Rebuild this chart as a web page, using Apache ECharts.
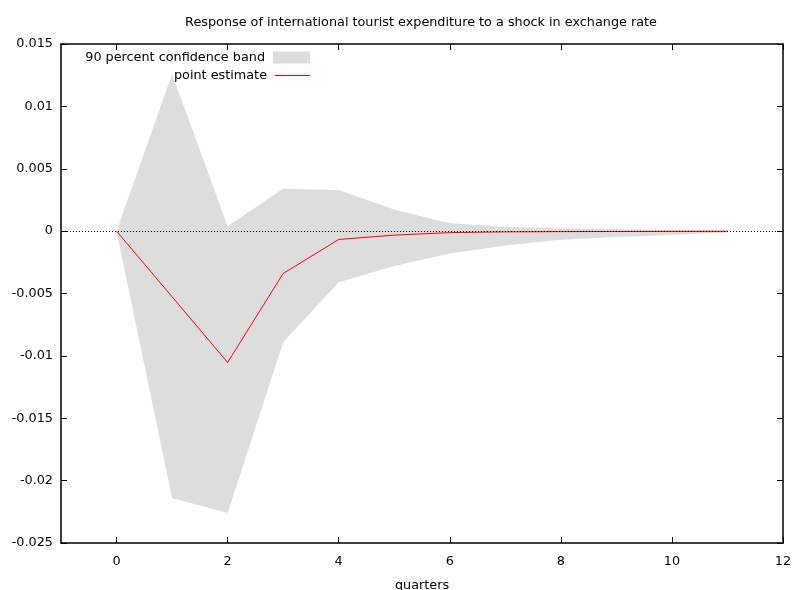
<!DOCTYPE html>
<html>
<head>
<meta charset="utf-8">
<script src="https://cdn.jsdelivr.net/npm/echarts@6/dist/echarts.min.js"></script>
<style>
  html, body { margin: 0; padding: 0; background: #fff; }
  #irf-chart { width: 793px; height: 590px; }
</style>
</head>
<body>
<div id="irf-chart"></div>
<script>
var quarters = [0, 1, 2, 3, 4, 5, 6, 7, 8, 9, 10, 11];
var bandUpper = [0, 0.0126, 0.0004, 0.0034, 0.0033, 0.00174, 0.00064, 0.00036, 0.00022, 0.00015, 0.0001, 0.00005];
var bandLower = [0, -0.0214, -0.0226, -0.0089, -0.0041, -0.0028, -0.0018, -0.00115, -0.0007, -0.00048, -0.00032, -0.00012];
var pointEst = [0, -0.00526, -0.01053, -0.0034, -0.00067, -0.00032, -0.00012, -0.00006, -0.00004, -0.00003, -0.00002, -0.00001];
var xTicks = [0, 2, 4, 6, 8, 10, 12];

var chartDom = document.getElementById('irf-chart');
var chart = echarts.init(chartDom);
var font = 'DejaVu Sans';

function pairs(ys) {
    return quarters.map(function (q, i) {
        return [q, ys[i]];
    });
}

var bandData = quarters.map(function (q, i) {
    return [q, bandLower[i], bandUpper[i]];
});

// draw the whole band as one polygon on the first item
function renderBand(params, api) {
    if (params.dataIndex !== 0) return;
    var pts = [];
    bandData.forEach(function (d) {
        pts.push(api.coord([d[0], d[2]]));
    });
    for (var i = bandData.length - 1; i >= 0; i--) {
        pts.push(api.coord([bandData[i][0], bandData[i][1]]));
    }
    return {
        type: 'polygon',
        shape: { points: pts },
        style: { fill: '#dddddd' }
    };
}

var option = {
    animation: false,
    backgroundColor: '#fff',
    textStyle: { fontFamily: font },
    title: {
        text: 'Response of international tourist expenditure to a shock in exchange rate',
        left: 416,
        textAlign: 'center',
        top: 11,
        textStyle: { fontFamily: font, fontSize: 12.8, fontWeight: 'normal', color: '#000' }
    },
    grid: { left: 61, right: 10, top: 44, bottom: 47, outerBoundsMode: 'none', containLabel: false },
    legend: [{
        data: ['90 percent confidence band'],
        right: 483,
        top: 51,
        padding: 0,
        align: 'right',
        icon: 'rect',
        itemWidth: 37,
        itemHeight: 12,
        selectedMode: false,
        itemStyle: { color: '#dddddd' },
        textStyle: { fontFamily: font, fontSize: 12.8, color: '#000', padding: [0, 3, 0, 0] }
    }, {
        data: ['point estimate'],
        right: 483,
        top: 69,
        padding: 0,
        align: 'right',
        icon: 'rect',
        itemWidth: 35,
        itemHeight: 1,
        selectedMode: false,
        textStyle: { fontFamily: font, fontSize: 12.8, color: '#000', padding: [0, 3, 0, 0] }
    }],
    xAxis: [{
        type: 'value',
        min: -1,
        max: 12,
        name: 'quarters',
        nameLocation: 'middle',
        nameGap: 36,
        nameTextStyle: { fontFamily: font, fontSize: 12.8, color: '#000' },
        splitLine: { show: false },
        axisLine: { show: true, onZero: false, lineStyle: { color: '#000', width: 1.5 } },
        axisTick: { show: true, inside: true, length: 6, customValues: xTicks, lineStyle: { color: '#000' } },
        axisLabel: { customValues: xTicks, margin: 12, fontFamily: font, fontSize: 12.8, color: '#000' }
    }, {
        type: 'value',
        position: 'top',
        min: -1,
        max: 12,
        splitLine: { show: false },
        axisLine: { show: true, onZero: false, lineStyle: { color: '#000', width: 1.5 } },
        axisTick: { show: true, inside: true, length: 6, customValues: xTicks, lineStyle: { color: '#000' } },
        axisLabel: { show: false }
    }],
    yAxis: [{
        type: 'value',
        min: -0.025,
        max: 0.015,
        interval: 0.005,
        splitLine: { show: false },
        axisLine: { show: true, onZero: false, lineStyle: { color: '#000', width: 1.5 } },
        axisTick: { show: true, inside: true, length: 6, lineStyle: { color: '#000' } },
        axisLabel: {
            margin: 8,
            fontFamily: font,
            fontSize: 12.8,
            color: '#000',
            formatter: function (v) {
                return String(parseFloat(v.toFixed(4)));
            }
        }
    }, {
        type: 'value',
        position: 'right',
        min: -0.025,
        max: 0.015,
        interval: 0.005,
        splitLine: { show: false },
        axisLine: { show: true, onZero: false, lineStyle: { color: '#000', width: 1.5 } },
        axisTick: { show: true, inside: true, length: 6, lineStyle: { color: '#000' } },
        axisLabel: { show: false }
    }],
    series: [{
        name: '90 percent confidence band',
        type: 'custom',
        renderItem: renderBand,
        data: bandData,
        encode: { x: 0, y: [1, 2] },
        color: '#dddddd',
        silent: true,
        z: 1
    }, {
        name: 'zero',
        type: 'line',
        data: [],
        markLine: {
            silent: true,
            symbol: 'none',
            label: { show: false },
            lineStyle: { color: '#000', type: [1, 2], width: 1 },
            data: [{ yAxis: 0 }]
        },
        z: 2
    }, {
        name: 'point estimate',
        type: 'line',
        data: pairs(pointEst),
        showSymbol: false,
        color: '#ff0000',
        lineStyle: { color: '#ff0000', width: 1 },
        z: 3
    }]
};

chart.setOption(option);
</script>
</body>
</html>
